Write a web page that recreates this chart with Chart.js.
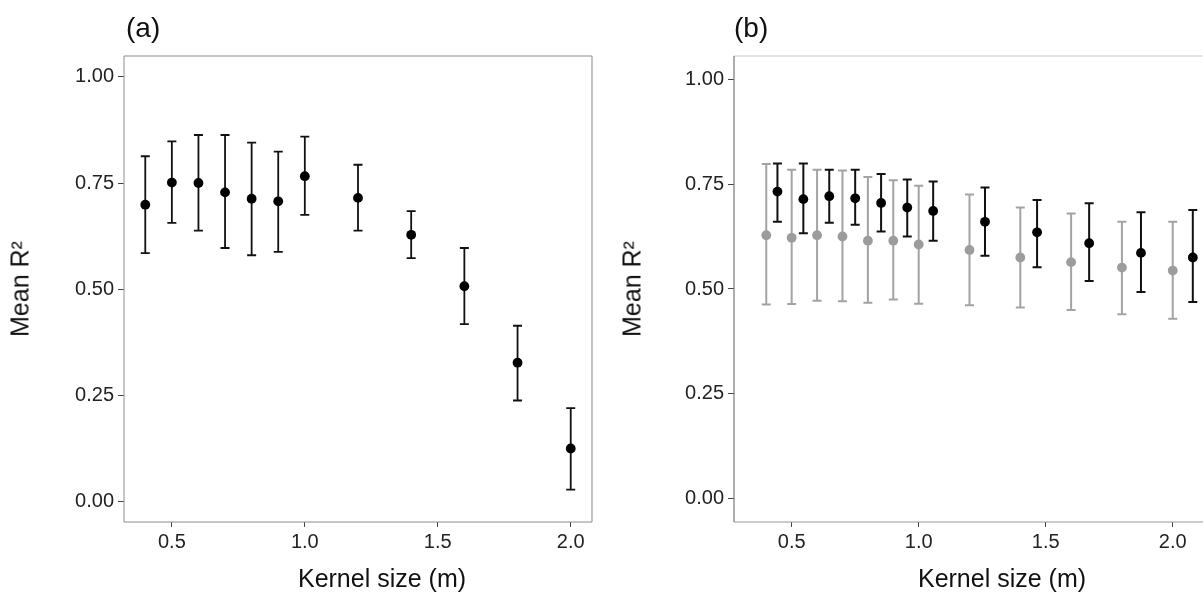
<!DOCTYPE html>
<html>
<head>
<meta charset="utf-8">
<script src="https://cdn.jsdelivr.net/npm/chart.js@4.4.1/dist/chart.umd.min.js"></script>
<style>
  html, body { margin: 0; padding: 0; background: #fff; overflow: hidden; }
  body { width: 1203px; height: 599px; position: relative; font-family: "Liberation Sans", Arial, sans-serif; color: #111; }
  canvas { position: absolute; top: 0; }
  #chartA { left: 0; }
  #chartB { left: 600px; }
  .label { position: absolute; white-space: nowrap; line-height: 1; }
  .panel { font-size: 28px; top: 14px; }
  .xtitle { font-size: 25px; top: 566px; transform: translateX(-50%); }
  .ytitle { font-size: 25px; top: 289px; transform: translate(-50%, -50%) rotate(-90deg); }
</style>
</head>
<body>
<canvas id="chartA" width="600" height="599" style="width:600px;height:599px"></canvas>
<canvas id="chartB" width="630" height="599" style="width:630px;height:599px"></canvas>

<div class="label panel" style="left:126px">(a)</div>
<div class="label panel" style="left:734px">(b)</div>
<div class="label ytitle" style="left:20px">Mean R²</div>
<div class="label ytitle" style="left:632px">Mean R²</div>
<div class="label xtitle" style="left:382px">Kernel size (m)</div>
<div class="label xtitle" style="left:1002px">Kernel size (m)</div>

<script>
// panel (a)
const kernelA = [0.4, 0.5, 0.6, 0.7, 0.8, 0.9, 1.0, 1.2, 1.4, 1.6, 1.8, 2.0];
const meanA = [0.699, 0.751, 0.750, 0.728, 0.713, 0.707, 0.766, 0.715, 0.628, 0.507, 0.327, 0.125];
const lowA  = [0.585, 0.656, 0.638, 0.597, 0.580, 0.588, 0.675, 0.638, 0.573, 0.418, 0.238, 0.028];
const highA = [0.813, 0.848, 0.863, 0.863, 0.845, 0.824, 0.859, 0.793, 0.684, 0.597, 0.414, 0.220];

// panel (b), grey series
const kernelGrey = [0.4, 0.5, 0.6, 0.7, 0.8, 0.9, 1.0, 1.2, 1.4, 1.6, 1.8, 2.0];
const meanGrey = [0.628, 0.622, 0.628, 0.625, 0.615, 0.615, 0.606, 0.593, 0.575, 0.564, 0.551, 0.544];
const lowGrey  = [0.463, 0.464, 0.472, 0.471, 0.467, 0.475, 0.465, 0.461, 0.456, 0.450, 0.440, 0.429];
const highGrey = [0.798, 0.784, 0.784, 0.782, 0.767, 0.759, 0.746, 0.725, 0.694, 0.680, 0.660, 0.660];

// panel (b), black series
const kernelBlack = [0.444, 0.546, 0.648, 0.750, 0.852, 0.955, 1.057, 1.261, 1.466, 1.671, 1.875, 2.079];
const meanBlack = [0.732, 0.714, 0.721, 0.716, 0.705, 0.694, 0.686, 0.660, 0.635, 0.609, 0.586, 0.575];
const lowBlack  = [0.660, 0.633, 0.658, 0.653, 0.637, 0.625, 0.615, 0.579, 0.552, 0.519, 0.493, 0.469];
const highBlack = [0.799, 0.799, 0.784, 0.784, 0.774, 0.761, 0.756, 0.742, 0.712, 0.704, 0.683, 0.688];

const xTicks = [0.5, 1.0, 1.5, 2.0];
const yTicks = [0, 0.25, 0.5, 0.75, 1.0];

const FONT = '"Liberation Sans", Arial, sans-serif';

// draws the vertical error bars with caps from the scales
const errorBars = {
  id: 'errorBars',
  beforeDatasetsDraw(chart) {
    const ctx = chart.ctx;
    const xs = chart.scales.x;
    const ys = chart.scales.y;
    chart.data.datasets.forEach(ds => {
      ctx.save();
      ctx.strokeStyle = ds.errColor;
      ctx.lineWidth = ds.errWidth;
      ds.data.forEach((p, i) => {
        const px = xs.getPixelForValue(p.x);
        const top = ys.getPixelForValue(ds.errHigh[i]);
        const bot = ys.getPixelForValue(ds.errLow[i]);
        ctx.beginPath();
        ctx.moveTo(px, top);
        ctx.lineTo(px, bot);
        ctx.moveTo(px - 4.5, top);
        ctx.lineTo(px + 4.5, top);
        ctx.moveTo(px - 4.5, bot);
        ctx.lineTo(px + 4.5, bot);
        ctx.stroke();
      });
      ctx.restore();
    });
  }
};

// panel border, one colour per side
const frame = {
  id: 'frame',
  afterDraw(chart, args, opts) {
    const a = chart.chartArea;
    const ctx = chart.ctx;
    const side = (color, x1, y1, x2, y2) => {
      ctx.beginPath();
      ctx.strokeStyle = color;
      ctx.lineWidth = 1.2;
      ctx.moveTo(x1, y1);
      ctx.lineTo(x2, y2);
      ctx.stroke();
    };
    ctx.save();
    side(opts.top, a.left, a.top, a.right, a.top);
    side(opts.right, a.right, a.top, a.right, a.bottom);
    side(opts.bottom, a.left, a.bottom, a.right, a.bottom);
    side(opts.left, a.left, a.top, a.left, a.bottom);
    ctx.restore();
  }
};

function makeDataset(xs, means, lows, highs, color, barColor, barWidth) {
  return {
    data: xs.map((x, i) => ({ x: x, y: means[i] })),
    backgroundColor: color,
    borderWidth: 0,
    pointRadius: 4.9,
    errLow: lows,
    errHigh: highs,
    errColor: barColor,
    errWidth: barWidth,
  };
}

function createPanel(canvasId, datasets, xRange, yRange, yAxisWidth, padRight, frameColors) {
  const ctx = document.getElementById(canvasId).getContext('2d');
  return new Chart(ctx, {
    type: 'scatter',
    data: { datasets: datasets },
    plugins: [errorBars, frame],
    options: {
      responsive: false,
      animation: false,
      layout: { padding: { top: 56, right: padRight, bottom: 0, left: 0 } },
      plugins: {
        legend: { display: false },
        tooltip: { enabled: false },
        frame: frameColors,
      },
      scales: {
        x: {
          type: 'linear',
          min: xRange[0],
          max: xRange[1],
          afterBuildTicks: scale => { scale.ticks = xTicks.map(v => ({ value: v })); },
          afterFit: scale => { scale.height = 77; },
          border: { display: false },
          grid: { drawOnChartArea: false, drawTicks: true, tickLength: 5, color: '#444' },
          ticks: {
            padding: 3,
            color: '#222',
            font: { family: FONT, size: 20 },
            callback: v => v.toFixed(1),
          },
        },
        y: {
          type: 'linear',
          min: yRange[0],
          max: yRange[1],
          afterBuildTicks: scale => { scale.ticks = yTicks.map(v => ({ value: v })); },
          afterFit: scale => { scale.width = yAxisWidth; },
          border: { display: false },
          grid: { drawOnChartArea: false, drawTicks: true, tickLength: 6, color: '#444' },
          ticks: {
            padding: 4,
            color: '#222',
            font: { family: FONT, size: 20 },
            callback: v => v.toFixed(2),
          },
        },
      },
    },
  });
}

const chartA = createPanel(
  'chartA',
  [makeDataset(kernelA, meanA, lowA, highA, '#000', '#111', 1.8)],
  [0.32, 2.08],
  [-0.048, 1.049],
  124,
  8,
  { top: '#8c8c8c', right: '#9a9a9a', bottom: '#8c8c8c', left: '#a0a0a0' }
);

const chartB = createPanel(
  'chartB',
  [
    makeDataset(kernelGrey, meanGrey, lowGrey, highGrey, '#9c9c9c', '#a3a3a3', 2),
    makeDataset(kernelBlack, meanBlack, lowBlack, highBlack, '#000', '#111', 2),
  ],
  [0.273, 2.19],
  [-0.055, 1.055],
  134,
  9,
  { top: '#c8c8c8', right: '#c8c8c8', bottom: '#999', left: '#777' }
);
</script>
</body>
</html>
